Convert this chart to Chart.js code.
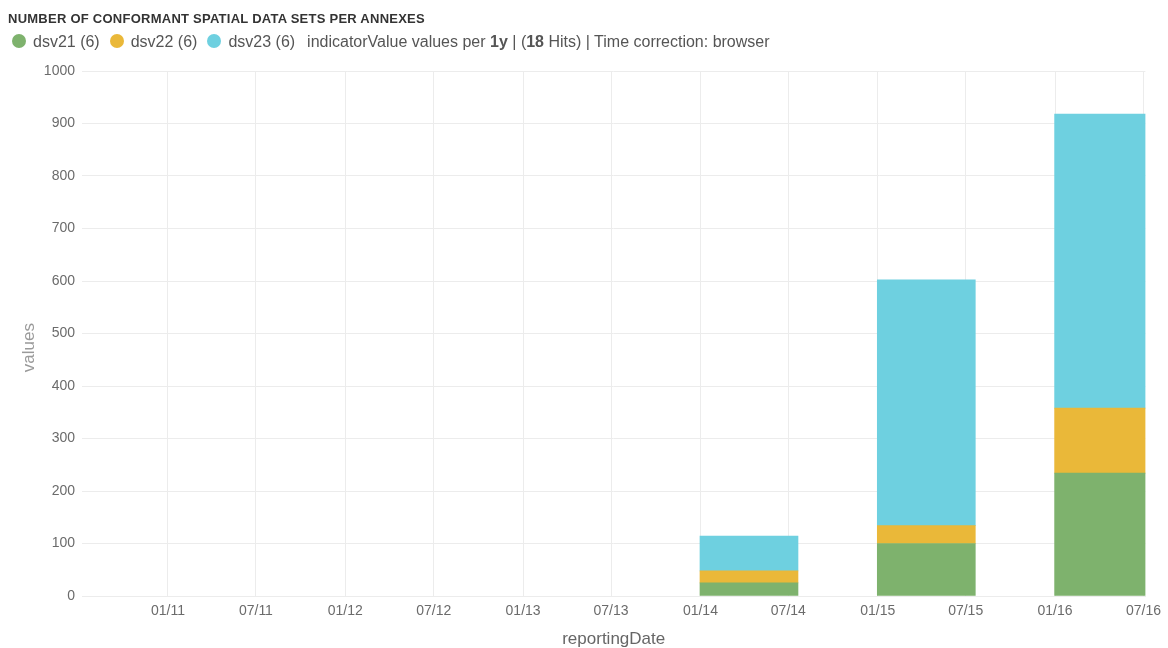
<!DOCTYPE html>
<html>
<head>
<meta charset="utf-8">
<script src="https://cdn.jsdelivr.net/npm/chart.js@4.4.0/dist/chart.umd.min.js"></script>
<style>
  html, body { margin: 0; padding: 0; background: #fff; }
  body { width: 1168px; height: 648px; position: relative; overflow: hidden; font-family: "Liberation Sans", Arial, sans-serif; }
  #wrap { position: absolute; left: 0; top: 0; width: 1168px; height: 648px; }
  #title { position: absolute; left: 8px; top: 11px; font-size: 13px; font-weight: bold; color: #333; letter-spacing: 0.25px; white-space: nowrap; }
  #legend { position: absolute; left: 12px; top: 33px; font-size: 16px; color: #555; white-space: nowrap; }
  .dot { display: inline-block; width: 14px; height: 14px; border-radius: 50%; vertical-align: -1px; margin-right: 7px; }
  .item { margin-right: 10px; }
  .info { margin-left: 2px; }
</style>
</head>
<body>
<div id="wrap"><canvas id="chart"></canvas></div>
<div id="title">NUMBER OF CONFORMANT SPATIAL DATA SETS PER ANNEXES</div>
<div id="legend"></div>
<script>
// yearly buckets (reportingDate, interval 1y)
var bucketYears = [2011, 2012, 2013, 2014, 2015, 2016];

// indicatorValue per bucket
var dsv21 = [0, 0, 0, 25, 100, 234];
var dsv22 = [0, 0, 0, 23, 34, 124];
var dsv23 = [0, 0, 0, 66, 468, 560];

var seriesNames = ['dsv21', 'dsv22', 'dsv23'];
var seriesColors = ['#7EB26D', '#EAB839', '#6ED0E0'];

// x axis ticks every 6 months
var xTickDates = ['2011-01-01', '2011-07-01', '2012-01-01', '2012-07-01', '2013-01-01', '2013-07-01',
                  '2014-01-01', '2014-07-01', '2015-01-01', '2015-07-01', '2016-01-01', '2016-07-01'];

// time range shown
var rangeStart = '2010-07-08';
var rangeEnd = '2016-07-05';

var DAY = 24 * 3600 * 1000;

function toTime(s) {
    var p = s.split('-');
    return Date.UTC(+p[0], +p[1] - 1, +p[2]);
}

// bars start at the bucket key and run about 200 days, so centre them 100 days in
function barCentre(year) {
    return Date.UTC(year, 0, 1) + 100 * DAY;
}

var allSeries = [dsv21, dsv22, dsv23];

var datasets = allSeries.map(function (vals, i) {
    return {
        label: seriesNames[i],
        data: bucketYears.map(function (y, j) { return { x: barCentre(y), y: vals[j] }; }),
        // empty buckets draw nothing
        backgroundColor: function (ctx) {
            return ctx.raw && ctx.raw.y ? seriesColors[i] : 'rgba(0,0,0,0)';
        },
        borderWidth: 0,
        barThickness: 98
    };
});

// legend line (html, to get the bold bits)
var legendHtml = '';
var hits = 0;
allSeries.forEach(function (vals, i) {
    hits += vals.length;
    legendHtml += '<span class="item"><span class="dot" style="background:' + seriesColors[i] + '"></span>' +
        seriesNames[i] + ' (' + vals.length + ')</span>';
});
legendHtml += '<span class="info">indicatorValue values per <b>1y</b> | (<b>' + hits + '</b> Hits) | Time correction: browser</span>';
document.getElementById('legend').innerHTML = legendHtml;

function pad2(n) { return (n < 10 ? '0' : '') + n; }

var gridColor = '#ececec';

new Chart(document.getElementById('chart').getContext('2d'), {
    type: 'bar',
    data: { datasets: datasets },
    options: {
        responsive: true,
        maintainAspectRatio: false,
        animation: false,
        layout: { padding: { top: 71, right: 22, left: 0, bottom: 0 } },
        plugins: {
            legend: { display: false },
            tooltip: { enabled: false }
        },
        scales: {
            x: {
                type: 'linear',
                stacked: true,
                offset: false,
                min: toTime(rangeStart),
                max: toTime(rangeEnd),
                afterBuildTicks: function (scale) {
                    scale.ticks = xTickDates.map(function (d) { return { value: toTime(d) }; });
                },
                afterFit: function (scale) { scale.height = 52; },
                grid: { color: gridColor, drawTicks: false, offset: false },
                border: { display: true, color: gridColor },
                ticks: {
                    autoSkip: false,
                    maxRotation: 0,
                    padding: 7,
                    color: '#6b6b6b',
                    font: { family: '"Liberation Sans", Arial, sans-serif', size: 14 },
                    callback: function (v) {
                        var d = new Date(v);
                        return pad2(d.getUTCMonth() + 1) + '/' + pad2(d.getUTCFullYear() % 100);
                    }
                },
                title: {
                    display: true,
                    text: 'reportingDate',
                    color: '#666',
                    padding: { top: 0, bottom: 0 },
                    font: { family: '"Liberation Sans", Arial, sans-serif', size: 17, lineHeight: 1 }
                }
            },
            y: {
                stacked: true,
                min: 0,
                max: 1000,
                afterFit: function (scale) { scale.width = 82; },
                grid: { color: gridColor, drawTicks: false },
                border: { display: false },
                ticks: {
                    stepSize: 100,
                    padding: 7,
                    color: '#6b6b6b',
                    font: { family: '"Liberation Sans", Arial, sans-serif', size: 14 },
                    callback: function (v) { return String(v); }
                },
                title: {
                    display: true,
                    text: 'values      ',
                    color: '#9a9a9a',
                    padding: { top: 21, bottom: 0 },
                    font: { family: '"Liberation Sans", Arial, sans-serif', size: 17, lineHeight: 1 }
                }
            }
        }
    }
});
</script>
</body>
</html>
